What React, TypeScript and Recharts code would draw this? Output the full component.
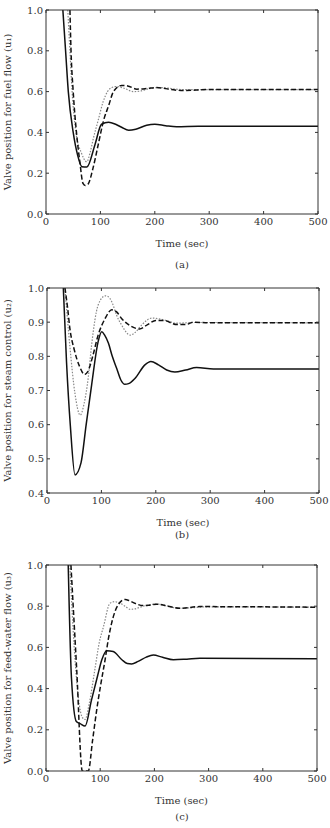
import { LineChart, Line, XAxis, YAxis } from 'recharts';

// time axis shared by all three panels
const timeTicks = [0, 100, 200, 300, 400, 500];
const unitTicks = [0, 0.2, 0.4, 0.6, 0.8, 1.0];
const steamTicks = [0.4, 0.5, 0.6, 0.7, 0.8, 0.9, 1.0];

// (a) fuel flow valve, [time, position]
const fuelSolid = [[31, 1], [36, 0.8], [41, 0.6], [50, 0.4], [58, 0.29], [66, 0.232], [75, 0.23], [90, 0.34], [102, 0.44], [115, 0.45], [128, 0.44], [139, 0.425], [152, 0.41], [165, 0.415], [185, 0.435], [200, 0.44], [220, 0.433], [240, 0.428], [280, 0.43], [500, 0.43]];
const fuelDashed = [[44, 1], [46, 0.8], [50, 0.6], [56, 0.4], [62, 0.26], [68, 0.15], [72, 0.14], [77, 0.145], [86, 0.22], [96, 0.34], [106, 0.46], [115, 0.53], [124, 0.6], [139, 0.63], [150, 0.628], [167, 0.612], [185, 0.615], [203, 0.62], [230, 0.61], [252, 0.605], [300, 0.61], [500, 0.61]];
const fuelDotted = [[40, 1], [44, 0.8], [48, 0.6], [55, 0.4], [65, 0.3], [75, 0.256], [81, 0.3], [87, 0.37], [96, 0.46], [105, 0.55], [113, 0.6], [121, 0.62], [130, 0.625], [145, 0.615], [160, 0.6], [172, 0.602], [190, 0.615], [210, 0.62], [250, 0.61], [500, 0.61]];

// (b) steam control valve
const steamSolid = [[30, 1], [36, 0.78], [43, 0.595], [51.5, 0.453], [62.5, 0.488], [72, 0.6], [82, 0.716], [94, 0.843], [100.5, 0.872], [106, 0.862], [113, 0.838], [120, 0.8], [128, 0.765], [136, 0.73], [143, 0.718], [150, 0.72], [162, 0.736], [180, 0.775], [191, 0.785], [205, 0.775], [220, 0.76], [235, 0.754], [255, 0.76], [275, 0.767], [306, 0.763], [500, 0.763]];
const steamDashed = [[33, 1], [38, 0.94], [42, 0.882], [50, 0.82], [60, 0.77], [69, 0.747], [75, 0.755], [84, 0.8], [94, 0.862], [107, 0.911], [119, 0.936], [128, 0.93], [137, 0.911], [156, 0.887], [170, 0.88], [185, 0.893], [200, 0.905], [214, 0.905], [239, 0.893], [255, 0.893], [269, 0.9], [300, 0.898], [500, 0.898]];
const steamDotted = [[33, 1], [42, 0.83], [51.5, 0.69], [61, 0.628], [68, 0.66], [76, 0.74], [82, 0.833], [94, 0.95], [107, 0.977], [112, 0.975], [119, 0.96], [128, 0.92], [137, 0.892], [153, 0.862], [162, 0.87], [173, 0.89], [193, 0.912], [214, 0.907], [239, 0.897], [270, 0.899], [500, 0.898]];

// (c) feed-water flow valve
const feedSolid = [[41, 1], [47, 0.45], [56, 0.24], [63, 0.23], [72, 0.218], [84, 0.345], [95, 0.46], [103, 0.54], [112, 0.584], [124, 0.58], [140, 0.54], [150, 0.522], [158, 0.52], [170, 0.532], [185, 0.553], [198, 0.563], [215, 0.552], [235, 0.54], [260, 0.543], [284, 0.547], [500, 0.545]];
const feedDashed = [[46, 1], [56.5, 0.5], [67, 0], [78, 0], [86, 0.15], [93.5, 0.296], [101, 0.42], [109, 0.54], [115, 0.64], [121, 0.717], [133, 0.806], [146, 0.833], [155, 0.825], [164, 0.814], [179, 0.803], [190, 0.805], [204, 0.81], [225, 0.8], [247, 0.79], [284, 0.798], [500, 0.795]];
const feedDotted = [[44, 1], [52, 0.6], [60, 0.35], [67, 0.26], [72, 0.25], [80, 0.33], [90, 0.49], [98, 0.62], [106, 0.7], [118, 0.814], [127, 0.822], [136, 0.815], [146, 0.8], [155, 0.785], [164, 0.787], [179, 0.8], [204, 0.81], [247, 0.79], [300, 0.797], [500, 0.795]];

const serif = '"DejaVu Serif", serif';
const ink = '#333';
const tickStyle = { fontSize: 10, fontFamily: serif, fill: ink };
const blank = () => '';

const pts = (a: number[][]) => a.map(([t, v]) => ({ t, v }));

function Panel(props: any) {
  const { top, height, margin, yWidth, yDomain, yTicks, yLabel, solid, dashed, dotted, caption, captionTop } = props;
  const xCommon = { dataKey: 't', type: 'number' as const, domain: [0, 500], ticks: timeTicks, allowDataOverflow: true };
  const yCommon = { type: 'number' as const, domain: yDomain, ticks: yTicks, allowDataOverflow: true };
  return (
    <>
      <div style={{ position: 'absolute', left: 0, top }}>
        <LineChart width={330} height={height} margin={margin}>
          <XAxis xAxisId="x" {...xCommon} height={40} tickLine={false} tickSize={0} tickMargin={4}
            axisLine={{ stroke: ink }} tick={tickStyle}
            label={{ value: 'Time (sec)', position: 'insideBottom', offset: 7, style: { fontSize: 10, fontFamily: serif, fill: ink } }} />
          {/* mirrored axes: inward ticks and the top / right sides of the box */}
          <XAxis xAxisId="xin" {...xCommon} mirror tickFormatter={blank} tickSize={3} axisLine={false} tickLine={{ stroke: ink }} />
          <XAxis xAxisId="top" {...xCommon} orientation="top" mirror tickFormatter={blank} tickSize={3}
            axisLine={{ stroke: ink }} tickLine={{ stroke: ink }} />
          <YAxis yAxisId="y" {...yCommon} width={yWidth} tickLine={false} tickSize={0} tickMargin={3}
            axisLine={{ stroke: ink }} tick={tickStyle} tickFormatter={(v: number) => v.toFixed(1)}
            label={{ value: yLabel, angle: -90, position: 'insideLeft', offset: 7, style: { textAnchor: 'middle', fontSize: 10, fontFamily: serif, fill: ink } }} />
          <YAxis yAxisId="yin" {...yCommon} mirror tickFormatter={blank} tickSize={3} axisLine={false} tickLine={{ stroke: ink }} />
          <YAxis yAxisId="right" {...yCommon} orientation="right" mirror tickFormatter={blank} tickSize={3}
            axisLine={{ stroke: ink }} tickLine={{ stroke: ink }} />
          <Line xAxisId="x" yAxisId="y" data={pts(dotted)} dataKey="v" type="monotone" stroke="#888"
            strokeWidth={1.2} strokeDasharray="1.5 1.5" dot={false} isAnimationActive={false} />
          <Line xAxisId="x" yAxisId="y" data={pts(dashed)} dataKey="v" type="monotone" stroke="#111"
            strokeWidth={1.5} strokeDasharray="5 2.5" dot={false} isAnimationActive={false} />
          <Line xAxisId="x" yAxisId="y" data={pts(solid)} dataKey="v" type="monotone" stroke="#111"
            strokeWidth={1.5} dot={false} isAnimationActive={false} />
        </LineChart>
      </div>
      <div style={{ position: 'absolute', left: 0, width: 364, top: captionTop, textAlign: 'center', fontFamily: serif, fontSize: 10, lineHeight: '12px', color: ink }}>
        {caption}
      </div>
    </>
  );
}

export default function App() {
  return (
    <div style={{ position: 'absolute', left: 0, top: 0, width: 330, height: 828, background: '#fff', overflow: 'hidden' }}>
      <Panel top={0} height={270} margin={{ top: 10, right: 12, bottom: 16, left: 0 }} yWidth={46}
        yDomain={[0, 1]} yTicks={unitTicks} yLabel="Valve position for fuel flow (u₁)"
        solid={fuelSolid} dashed={fuelDashed} dotted={fuelDotted} caption="(a)" captionTop={259} />
      <Panel top={270} height={270} margin={{ top: 18, right: 11, bottom: 7, left: 0 }} yWidth={47}
        yDomain={[0.4, 1]} yTicks={steamTicks} yLabel="Valve position for steam control (u₂)"
        solid={steamSolid} dashed={steamDashed} dotted={steamDotted} caption="(b)" captionTop={529} />
      <Panel top={545} height={283} margin={{ top: 20, right: 13, bottom: 17, left: 0 }} yWidth={46}
        yDomain={[0, 1]} yTicks={unitTicks} yLabel="Valve position for feed-water flow (u₃)"
        solid={feedSolid} dashed={feedDashed} dotted={feedDotted} caption="(c)" captionTop={811} />
    </div>
  );
}
